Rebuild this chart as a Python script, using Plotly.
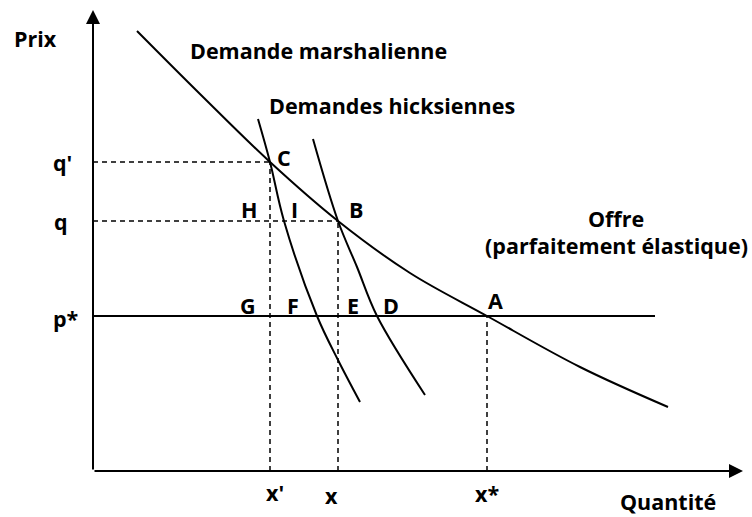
import plotly.graph_objects as go

# Units: quantity (horizontal) and price (vertical), origin at the axes corner
# Marshallian demand
marsh_q = [4.4, 10.7, 17.7, 24.5, 31.7, 39.4, 48.7, 57.5]
marsh_p = [44.0, 37.7, 30.9, 25.0, 19.8, 15.5, 10.4, 6.4]
# Hicksian demand through C
hick1_q = [16.5, 17.7, 19.1, 22.4, 24.5, 26.7]
hick1_p = [35.2, 30.9, 25.0, 15.5, 11.1, 6.9]
# Hicksian demand through B
hick2_q = [22.0, 24.5, 26.4, 28.4, 33.2]
hick2_p = [33.2, 25.0, 20.4, 15.5, 7.6]
# Supply (perfectly elastic)
supply_q = [0.0, 56.2]
p_star = 15.5
# Key points
x_prime, q_prime = 17.7, 30.9
x_val, q_val = 24.5, 25.0
x_star = 39.4
# Axis extents
q_axis_end = 65.0
p_axis_end = 46.1

# Labels
tick_labels_y = [("q'", -3.1, 30.9), ("q", -3.2, 25.0), ("p*", -2.7, 15.3)]
tick_labels_x = [("x'", 18.2, -2.1), ("x", 23.8, -2.4), ("x*", 39.4, -2.2)]
point_labels = [("C", 19.1, 31.4), ("H", 15.6, 26.2), ("I", 20.1, 26.2), ("B", 26.3, 26.2),
                ("G", 15.5, 16.6), ("F", 20.0, 16.6), ("E", 26.0, 16.6), ("D", 29.8, 16.6),
                ("A", 40.2, 17.1)]
text_labels = [("Prix", -5.8, 43.3), ("Quantité", 57.5, -3.0),
               ("Demande marshalienne", 22.5, 42.1), ("Demandes hicksiennes", 29.9, 36.6),
               ("Offre", 52.3, 25.3), ("(parfaitement élastique)", 52.3, 22.6)]

FONT = dict(family="Open Sans", size=21.5, color="black", weight="bold")

fig = go.Figure()
line = dict(color="black", width=2)
dash = dict(color="black", width=1.5, dash="5px,4px")

# Dashed guides
fig.add_trace(go.Scatter(x=[0, x_prime], y=[q_prime, q_prime], mode="lines", line=dash))
fig.add_trace(go.Scatter(x=[x_prime, x_prime], y=[0, q_prime], mode="lines", line=dash))
fig.add_trace(go.Scatter(x=[0, x_val], y=[q_val, q_val], mode="lines", line=dash))
fig.add_trace(go.Scatter(x=[x_val, x_val], y=[0, q_val], mode="lines", line=dash))
fig.add_trace(go.Scatter(x=[x_star, x_star], y=[0, p_star], mode="lines", line=dash))

# Curves
fig.add_trace(go.Scatter(x=supply_q, y=[p_star, p_star], mode="lines", line=line))
fig.add_trace(go.Scatter(x=marsh_q, y=marsh_p, mode="lines", line=dict(line, shape="spline")))
fig.add_trace(go.Scatter(x=hick1_q, y=hick1_p, mode="lines", line=dict(line, shape="spline")))
fig.add_trace(go.Scatter(x=hick2_q, y=hick2_p, mode="lines", line=dict(line, shape="spline")))

# Axes with arrows
for (tx, ty) in [(0, p_axis_end), (q_axis_end, 0)]:
    fig.add_annotation(x=tx, y=ty, ax=0, ay=0, axref="x", ayref="y", xref="x", yref="y",
                       showarrow=True, arrowhead=2, arrowsize=1.4, arrowwidth=2,
                       arrowcolor="black", text="", standoff=0, startstandoff=0)

for t, x, y in tick_labels_y + tick_labels_x + point_labels + text_labels:
    fig.add_annotation(x=x, y=y, text=t, showarrow=False, font=FONT,
                       xanchor="center", yanchor="middle")

fig.update_layout(
    width=752, height=517, autosize=False,
    margin=dict(l=0, r=0, t=0, b=0),
    paper_bgcolor="white", plot_bgcolor="white",
    showlegend=False,
    xaxis=dict(range=[-9.3, 65.9], visible=False, fixedrange=True),
    yaxis=dict(range=[-4.6, 47.1], visible=False, fixedrange=True),
)
fig.write_html("out.html", config={"displayModeBar": False},
               post_script="document.body.style.margin='0';document.body.style.overflow='hidden';")
